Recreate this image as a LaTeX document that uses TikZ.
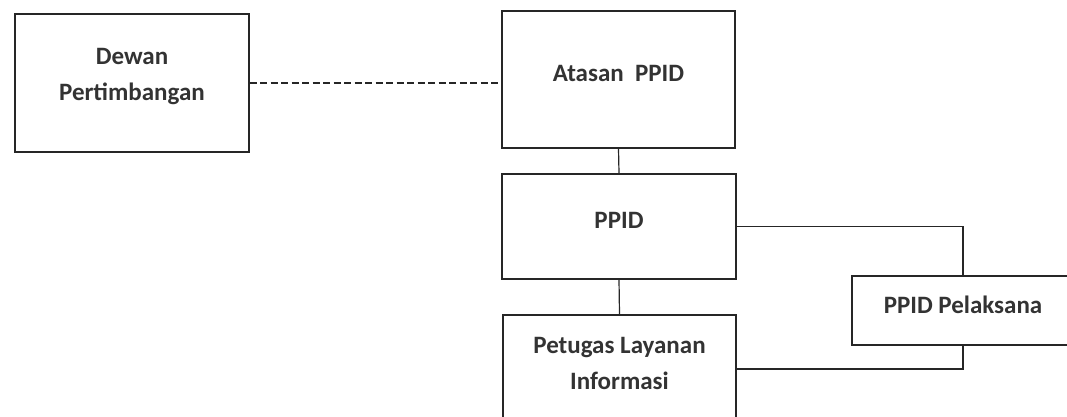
\documentclass[tikz,border=0pt]{standalone}
\usepackage{fontspec}
\setmainfont{Carlito}

\begin{document}
\begin{tikzpicture}[x=1pt,y=-1pt,
    box/.style={draw=black!85, line width=1.2pt, inner sep=0pt},
    txt/.style={font=\bfseries\fontsize{25}{36}\selectfont, text=black!80, align=center, yshift=6pt},
    link/.style={draw=black!85, line width=1.2pt}]
        % Frame
        \useasboundingbox (0,0) rectangle (1067,417);
        \clip (0,0) rectangle (1067,417);

        % Boxes
        \node[box, minimum width=234pt, minimum height=138pt, label={[txt]center:Dewan\\Pertimbangan}] (dewan) at (132,83) {};
        \node[box, minimum width=233pt, minimum height=137pt, label={[txt]center:Atasan\ \ PPID}] (atasan) at (618.5,79.5) {};
        \node[box, minimum width=234pt, minimum height=105pt, label={[txt]center:PPID}] (ppid) at (619,226.5) {};
        \node[box, minimum width=233pt, minimum height=108pt, label={[txt]center:Petugas Layanan\\Informasi}] (petugas) at (619.5,369) {};
        \node[box, minimum width=222pt, minimum height=69pt, label={[txt]center:PPID Pelaksana}] (pelaksana) at (963,310.5) {};

        % Connectors
        \draw[link, dash pattern=on 7pt off 3.5pt] (dewan.east) -- (dewan.east -| atasan.west);
        \draw[link] (atasan.south) -- (ppid.north);
        \draw[link] (ppid.south) -- (petugas.north);
        \draw[link] (ppid.east) -| (pelaksana.north);
        \draw[link] (pelaksana.south) |- (petugas.east);
    \end{tikzpicture}
\end{document}
